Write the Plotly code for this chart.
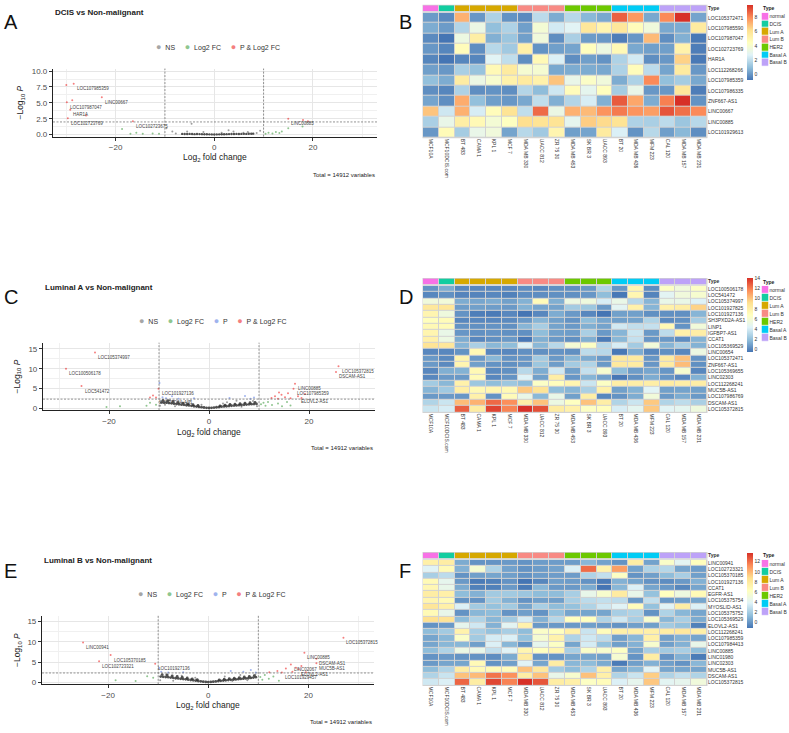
import plotly.graph_objects as go

W, H = 789, 733
FONT = "Liberation Sans, Arial, sans-serif"

# ---------------- volcano data (log2 fold change, -log10 p) ----------------
A_CLOUD_X = [-6.5, -6, -5.5, -5, -4.5, -4, -3.5, -3, -2.5, -2, -1.5, -1, -0.5, 0, 0.5, 1, 1.5, 2, 2.5, 3,
             3.5, 4, 4.5, 5, 5.5, 6, 6.5, 7, 7.5, 7.9]
A_CLOUD_Y = [0.12, 0.1, 0.1, 0.12, 0.1, 0.08, 0.1, 0.09, 0.08, 0.07, 0.06, 0.05, 0.04, 0.03, 0.04, 0.05, 0.06,
             0.07, 0.08, 0.09, 0.1, 0.1, 0.12, 0.1, 0.12, 0.13, 0.12, 0.14, 0.15, 0.16]
A_NS_X = [-9.7, -8.5, -4.6, -7.8, -2.2, 2.9, 3.9, 5.9, 6.8, 8.6, 9.3, -5.5, 1.5]
A_NS_Y = [1.0, 0.5, 1.7, 0.2, 0.4, 0.7, 0.5, 0.3, 0.4, 0.25, 0.6, 0.5, 0.3]
A_FC_X = [-18.7, -17.0, -15.8, -14.5, -12.5, -11.2, 10.4, 11.0, 11.8, 12.5, 13.2, 13.7, 15.0, 17.9]
A_FC_Y = [0.9, 0.15, 0.3, 0.15, 0.2, 0.15, 0.15, 0.3, 0.2, 0.4, 0.25, 0.5, 1.0, 1.3]
A_P_X = []
A_P_Y = []
A_BOTH_X = [-30.0, -28.5, -22.8, -29.9, -28.8, -29.2, -26.0, -29.7, -16.5, 15.0, 18.0, 19.0]
A_BOTH_Y = [7.8, 8.0, 5.9, 5.1, 5.4, 3.9, 3.0, 2.6, 2.1, 2.5, 2.3, 2.1]
A_LABELS = ["LOC107985359", "LINC00667", "LOC107987047", "HAR1A", "LOC102723769", "LOC102723675", "LINC00885"]
A_LABEL_X = [-28.5, -22.8, -29.9, -29.2, -29.7, -16.5, 15.0]
A_LABEL_Y = [8.0, 5.9, 5.1, 3.9, 2.6, 2.1, 2.5]

C_CLOUD_X = [-9.5, -9, -8.5, -8, -7.5, -7, -6.5, -6, -5.5, -5, -4.5, -4, -3.5, -3, -2.5, -2, -1.5, -1, -0.5, 0,
             0.5, 1, 1.5, 2, 2.5, 3, 3.5, 4, 4.5, 5, 5.5, 6, 6.5, 7, 7.5, 8, 8.5, 9, 9.5,
             -9.2, -8.2, -7.2, -6.2, -5.2, -4.2, -3.2, -2.2, 2.2, 3.2, 4.2, 5.2, 6.2, 7.2, 8.2, 9.2]
C_CLOUD_Y = [1.5, 1.4, 1.45, 1.3, 1.25, 1.15, 1.05, 1.0, 0.9, 0.85, 0.75, 0.7, 0.6, 0.5, 0.42, 0.34, 0.26, 0.18,
             0.1, 0.05, 0.1, 0.16, 0.24, 0.3, 0.38, 0.45, 0.5, 0.56, 0.62, 0.68, 0.72, 0.78, 0.82, 0.88, 0.92,
             0.98, 1.02, 1.06, 1.1,
             2.0, 1.9, 1.7, 1.5, 1.3, 1.1, 0.9, 0.7, 0.6, 0.8, 0.95, 1.05, 1.15, 1.3, 1.4, 1.5]
C_NS_X = [-9.8, -8.8, -7.8, -6.8, -4.5, -3.8, 3.6, 5.5, 6.5, 8.8, 9.6, -1.5, 2.8]
C_NS_Y = [0.6, 0.9, 2.0, 0.5, 1.3, 1.8, 1.5, 1.9, 0.4, 1.8, 0.5, 0.9, 1.2]
C_FC_X = [-20.5, -17.8, -12.5, -11.8, -10.6, 10.4, 10.9, 11.3, 11.8, 12.6, 13.8, 14.6, 15.6, 16.3]
C_FC_Y = [0.3, 0.5, 0.6, 1.4, 0.9, 1.0, 1.4, 0.6, 1.6, 0.8, 1.2, 0.5, 1.6, 0.7]
C_P_X = [-9.9, -9.3, -8.6, -7.4, -6.1, -3.0, 4.1, 7.2, 8.3, 9.0]
C_P_Y = [6.4, 2.8, 2.5, 3.0, 2.4, 2.5, 2.6, 3.1, 2.4, 2.7]
C_BOTH_X = [-22.8, -28.6, -25.5, -10.1, -10.6, 17.2, 16.9, 17.8, 25.9, 25.4, 12.5, 13.2, 13.8, 14.5, 15.2,
            15.8, 16.3, 18.5, 19.2, 14.0, -11.8, -11.2]
C_BOTH_Y = [14.1, 10.0, 5.6, 4.9, 2.7, 6.2, 4.9, 3.0, 10.6, 9.2, 2.6, 3.0, 2.4, 3.4, 2.8, 3.8, 2.5, 2.6, 3.6,
            4.0, 2.7, 3.2]
C_LABELS = ["LOC105374997", "LOC100506178", "LOC541472", "LOC101927136", "SH3PXD2A-AS1", "LINC00885",
            "LOC107985359", "ELOVL2-AS1", "LOC105372815", "DSCAM-AS1"]
C_LABEL_X = [-22.8, -28.6, -25.5, -10.1, -10.6, 17.2, 16.9, 17.8, 25.9, 25.4]
C_LABEL_Y = [14.1, 10.0, 5.6, 4.9, 2.7, 6.2, 4.9, 3.0, 10.6, 9.2]

E_CLOUD_X = C_CLOUD_X
E_CLOUD_Y = [1.4, 1.35, 1.3, 1.25, 1.15, 1.1, 1.0, 0.95, 0.85, 0.8, 0.72, 0.65, 0.56, 0.48, 0.4, 0.32, 0.24,
             0.16, 0.09, 0.04, 0.09, 0.15, 0.22, 0.29, 0.36, 0.42, 0.48, 0.54, 0.6, 0.65, 0.7, 0.76, 0.82,
             0.88, 0.94, 1.0, 1.08, 1.15, 1.25,
             1.9, 1.8, 1.6, 1.45, 1.25, 1.05, 0.85, 0.65, 0.6, 0.75, 0.9, 1.0, 1.15, 1.3, 1.45, 1.65]
E_NS_X = [-9.6, -8.4, -7.0, -5.3, -2.6, 3.3, 4.8, 6.4, 7.8, 9.4]
E_NS_Y = [0.5, 1.9, 0.4, 1.6, 1.1, 1.4, 0.3, 1.8, 0.5, 1.9]
E_FC_X = [-18.5, -14.5, -12.2, -11.0, 10.4, 10.8, 11.3, 12.1, 13.0, 14.1]
E_FC_Y = [0.5, 0.3, 1.5, 1.1, 1.3, 0.6, 1.8, 0.9, 1.4, 0.4]
E_P_X = [-9.8, -9.4, -8.0, -5.0, 4.5, 7.0, 8.5, 9.5]
E_P_Y = [3.5, 2.6, 2.4, 2.5, 2.8, 2.6, 3.0, 2.4]
E_BOTH_X = [-25.0, -19.5, -21.8, -10.6, 27.0, 19.2, 21.6, 21.6, 16.5, 18.0, 14.7, 13.8, 15.5, 16.8, 17.5,
            19.5, 18.6, 12.2]
E_BOTH_Y = [9.8, 6.7, 5.2, 4.6, 11.0, 7.3, 5.8, 4.7, 4.4, 3.2, 2.4, 2.8, 3.4, 2.6, 3.6, 2.5, 4.0, 2.5]
E_LABELS = ["LINC00941", "LOC105370185", "LOC102723321", "LOC101927136", "LOC105372815", "LINC00885",
            "DSCAM-AS1", "MUC5B-AS1", "LINC02067", "ELOVL2-AS1", "LOC101929457"]
E_LABEL_X = [-25.0, -19.5, -21.8, -10.6, 27.0, 19.2, 21.6, 21.6, 16.5, 18.0, 14.7]
E_LABEL_Y = [9.8, 6.7, 5.2, 4.6, 11.0, 7.3, 5.8, 4.7, 4.4, 3.2, 2.4]

FC_CUTOFF = 10
P_CUTOFFS = [2.0, 2.3, 2.3]
TOTAL_VARIABLES = 14912

# ---------------- heatmap data ----------------
CELL_LINES = ["MCF10A", "MCF10DCIS.com", "BT 483", "CAMA 1", "KPL 1", "MCF 7", "MDA MB 330", "UACC 812",
              "ZR 75 30", "MDA MB 453", "SK BR 3", "UACC 893", "BT 20", "MDA MB 436", "MFM 223", "CAL 120",
              "MDA MB 157", "MDA MB 231"]
CELL_TYPE = ["normal", "DCIS", "Lum A", "Lum A", "Lum A", "Lum A", "Lum B", "Lum B", "Lum B", "HER2", "HER2",
             "HER2", "Basal A", "Basal A", "Basal A", "Basal B", "Basal B", "Basal B"]
TYPE_NAMES = ["normal", "DCIS", "Lum A", "Lum B", "HER2", "Basal A", "Basal B"]
TYPE_COLORS = ["#F771E6", "#12CDA0", "#D6A800", "#F88A84", "#6CC800", "#00CCF5", "#BDA2F8"]

B_ROWS = ["LOC105372471", "LOC107985590", "LOC107987047", "LOC102723769", "HAR1A", "LOC112268266",
          "LOC107985359", "LOC107986335", "ZNF667-AS1", "LINC00667", "LINC00885", "LOC101929613"]
B_VALUES = [
    [0.1, -0.3, 7.2, 0.0, 1.6, -0.1, -0.3, 1.9, 0.5, 1.8, 0.8, 0.4, 8.8, 7.7, 0.4, 8.0, 9.7, 0.3],
    [0.5, 0.1, 1.7, 3.3, 1.0, 1.6, 0.2, 3.8, 2.4, 2.8, 5.8, 5.0, 5.8, 4.6, 3.6, 0.4, 0.5, 5.6],
    [-0.3, -0.8, 3.4, 5.4, 0.6, 1.2, 0.2, 3.6, -0.2, 1.5, 0.1, 0.0, -0.6, 0.0, 7.0, -0.2, 0.6, -0.7],
    [0.0, -0.4, 4.6, -0.2, 1.8, 1.3, 5.3, -0.1, 0.2, 0.3, 4.5, 3.4, 4.8, 0.4, 0.2, 0.2, 5.2, -0.6],
    [-0.4, -0.8, -0.4, -0.4, 2.8, 2.0, -0.2, 4.8, 2.6, -0.2, 0.2, -0.1, 1.6, 2.4, -0.2, 0.0, 6.5, -0.7],
    [0.2, 0.0, 1.5, 1.1, 4.8, 5.6, 3.9, 3.9, 0.4, 0.5, 0.5, 0.4, 1.6, 4.6, 1.9, 0.3, 5.6, 0.0],
    [1.0, 0.5, 5.5, 3.3, 4.0, 5.2, 5.6, 5.2, 6.8, 3.2, 4.2, 3.6, 0.5, 1.6, 8.0, 1.0, 1.4, 0.4],
    [-0.2, -0.4, 1.6, -0.2, -0.1, -0.2, 1.7, 0.9, 2.3, 4.6, 3.0, 4.5, 1.4, 3.2, 0.0, 0.0, 5.8, -0.6],
    [0.3, -0.2, 7.3, 1.0, 0.2, 0.0, 0.4, 2.0, 0.6, 1.7, 2.5, 0.6, 8.9, 7.4, 0.5, 8.2, 9.7, -0.1],
    [6.8, 2.3, 7.2, 2.5, 4.6, 6.0, 2.0, 8.6, 3.3, 7.2, 7.0, 7.8, 8.3, 7.8, 7.6, 9.0, 8.5, 8.0],
    [1.5, 3.2, 5.4, 4.8, 3.8, 4.4, 6.2, 6.0, 6.0, 3.0, 6.6, 6.3, 6.0, 1.6, 1.5, 1.9, 1.2, 1.8],
    [0.0, 4.7, 1.4, 3.2, 3.6, 0.3, 1.8, 1.3, 5.0, 0.2, 0.3, 5.6, 2.6, -0.1, 1.8, 0.2, 0.8, -0.2],
]

D_ROWS = ["LOC100506178", "LOC541472", "LOC105374997", "LOC101927825", "LOC101927136", "SH3PXD2A-AS1",
          "LINP1", "IGFBP7-AS1", "CCAT1", "LOC105369529", "LINC00654", "LOC105372471", "ZNF667-AS1",
          "LOC105369655", "LINC02303", "LOC112268241", "MUC5B-AS1", "LOC107986769", "DSCAM-AS1",
          "LOC105372815"]
D_VALUES = [
    [0.4, 1.2, 0.0, 0.0, 0.0, 0.0, 0.2, 0.0, 0.3, 0.3, 0.6, 2.8, 0.5, 7.5, 0.2, 6.5, 5.5, 6.5],
    [0.0, 0.3, -0.1, -0.1, 0.0, -0.2, 0.2, 0.2, 0.3, 0.3, 0.5, 1.8, -0.5, 7.4, -0.1, 4.5, 5.5, 6.0],
    [5.5, 5.6, 1.2, 1.0, 1.2, 0.8, 1.4, 7.0, 1.3, 5.2, 5.4, 4.0, 5.0, 3.0, 1.5, 5.0, 5.0, 4.2],
    [8.5, 8.6, 0.7, 0.8, 0.7, 0.6, 1.4, 1.0, 0.9, 2.4, 2.2, 0.6, 4.5, 7.8, 1.5, 7.8, 8.0, 9.5],
    [7.5, 5.4, 0.4, -0.3, -0.4, 0.0, -0.6, 0.0, 1.2, 0.6, 0.0, -0.6, 0.8, 0.8, 0.3, 0.3, 0.3, 1.5],
    [6.8, 7.0, 0.0, 0.0, 0.0, 0.1, 0.6, 1.5, 0.8, 0.4, 1.8, 1.0, 0.8, 0.9, 2.8, 0.1, 0.3, 2.5],
    [7.2, 7.0, 0.4, 0.3, 0.4, 0.3, 1.5, 2.5, 0.9, 0.6, 1.3, 0.9, 3.8, 3.3, 3.4, 7.2, 0.4, 5.6],
    [7.5, 5.0, 0.5, 0.3, 0.4, 0.3, 0.3, 1.8, 0.8, 0.7, 2.6, 0.6, 1.5, 3.6, 0.6, 3.2, 7.8, 8.0],
    [7.8, 5.2, 1.2, 0.0, 0.3, 0.6, -0.5, 1.3, 0.6, 0.3, 1.3, -0.4, 1.6, 3.4, 0.5, 0.6, 0.2, 1.4],
    [8.8, 8.6, 1.5, 2.6, 1.6, 1.8, 4.2, 1.6, 3.0, 5.8, 6.5, 3.0, 4.0, 2.4, 5.6, 1.5, 2.6, 1.4],
    [0.0, 0.0, 0.4, 7.2, 0.0, 0.0, 0.3, 0.3, 0.4, 0.3, 3.2, 3.0, -0.5, 1.2, 0.0, 0.3, 0.0, 5.2],
    [0.6, 0.1, 7.6, 0.6, 1.6, 0.4, 0.5, 2.4, 0.6, 1.6, 1.2, 0.6, 8.5, 8.3, 0.5, 8.3, 10.0, 0.4],
    [0.6, 0.1, 7.5, 0.8, 0.4, 0.3, 0.5, 2.2, 0.7, 2.4, 2.8, 0.6, 8.4, 8.2, 0.5, 8.2, 10.2, 0.3],
    [0.0, 1.3, 1.4, 7.2, 0.1, 0.3, 3.0, 1.2, 3.8, 0.8, 3.4, 6.0, 1.8, 0.7, 1.0, 0.5, 6.0, 0.0],
    [0.0, 0.6, 0.6, 7.0, 0.0, 0.4, 4.2, 0.8, 8.0, 0.5, 1.5, 0.8, -0.5, 0.3, 1.2, 0.5, 0.0, 1.4],
    [2.4, 1.6, 7.8, 2.2, 1.8, 2.2, 1.8, 6.4, 6.8, 7.5, 3.6, 6.5, 8.0, 8.0, 8.0, 8.2, 8.0, 8.0],
    [1.5, 2.3, 8.0, 7.2, 7.4, 7.2, 9.8, 8.8, 1.8, 1.5, 2.6, 7.8, 0.8, 1.4, 4.4, 0.8, 0.9, 0.8],
    [0.6, 0.6, 0.5, 7.8, 0.4, 7.0, 5.0, 1.6, 5.0, 0.8, 8.0, 0.0, 0.4, 1.2, 5.6, 0.6, 1.2, 0.6],
    [2.8, 3.6, 10.2, 10.5, 12.5, 11.5, 8.0, 10.0, 5.2, 6.6, 10.0, 8.0, 2.8, 3.6, 9.8, 2.8, 3.2, 2.6],
    [3.6, 4.0, 12.8, 8.2, 13.5, 11.8, 14.0, 13.2, 8.2, 7.8, 6.5, 6.8, 4.0, 4.6, 9.8, 4.4, 4.6, 5.4],
]

F_ROWS = ["LINC00941", "LOC102723321", "LOC105370185", "LOC101927136", "CCAT1", "EGFR-AS1", "LOC105375754",
          "MYOSLID-AS1", "LOC105375752", "LOC105369529", "ELOVL2-AS1", "LOC112268241", "LOC107985359",
          "LOC107984413", "LINC00885", "LINC01980", "LINC02303", "MUC5B-AS1", "DSCAM-AS1", "LOC105372815"]
F_VALUES = [
    [7.6, 7.8, 0.8, 0.0, 0.0, 0.2, 0.0, 0.3, 0.3, 0.3, 1.2, 0.5, 0.0, 7.8, 0.5, 6.0, 4.2, 6.5],
    [4.0, 6.8, 1.0, 5.6, 2.4, 0.5, 0.0, 0.3, 0.5, 3.8, 12.2, 7.4, 10.8, 0.5, 2.4, 2.6, 0.6, 0.3],
    [2.2, 2.8, 0.0, 0.4, 0.6, 0.4, 0.0, 0.3, 0.3, 0.3, 2.4, 3.0, 6.2, 0.0, 0.4, 1.4, 2.2, 0.4],
    [6.8, 4.4, 0.2, -0.8, -0.6, 0.0, -1.0, -0.4, 0.4, 0.3, 0.0, -0.8, 1.0, 0.6, 0.0, -0.2, 0.2, 1.0],
    [7.0, 4.6, 0.8, -0.6, -0.6, 0.2, -0.8, 1.2, 0.2, 0.2, 0.8, -1.0, 1.2, 3.8, 0.6, 0.2, -0.4, 0.6],
    [7.8, 7.6, 1.4, 1.0, 2.0, 2.0, 1.8, 1.4, 1.4, 2.2, 4.6, 5.8, 8.0, 4.6, 1.6, 6.4, 5.0, 6.8],
    [7.2, 6.8, 0.0, 0.0, 2.0, 1.0, 0.0, 0.4, 0.4, 2.2, 2.8, 3.0, 2.8, 0.2, 3.0, 0.2, 0.4, 0.6],
    [8.4, 7.6, 3.8, 2.0, 1.6, 2.0, 0.6, 2.2, 1.4, 1.6, 2.4, 3.4, 4.0, 6.6, 1.6, 4.0, 7.8, 3.8],
    [6.8, 4.6, 0.0, 1.2, 1.4, 0.0, 0.4, 0.0, 1.6, 0.6, 0.6, 0.6, 2.2, 2.4, 0.0, 2.4, 1.2, 0.6],
    [8.8, 8.6, 1.4, 2.4, 1.2, 2.0, 3.6, 1.0, 2.6, 6.4, 6.4, 2.4, 3.4, 2.2, 5.8, 1.2, 2.2, 0.8],
    [0.0, 0.2, 4.4, 3.4, 1.0, 4.2, 7.4, 0.2, 0.2, 0.2, 0.4, 0.2, 0.0, 0.4, 0.4, 2.0, 1.6, -0.6],
    [1.4, 2.0, 7.4, 2.2, 1.6, 2.2, 1.4, 6.0, 6.4, 7.6, 3.2, 6.6, 7.6, 7.6, 7.6, 7.8, 8.2, 7.6],
    [0.6, 1.2, 6.0, 2.0, 3.6, 3.8, 1.6, 5.6, 7.4, 2.4, 3.4, 2.8, 0.4, 1.2, 7.6, 0.4, 1.0, 0.6],
    [0.6, 1.2, 1.2, 0.4, 3.8, 1.2, 0.0, 4.4, 6.2, 0.6, 3.6, 1.6, 0.4, 1.0, 5.8, 0.4, 1.0, 4.6],
    [1.4, 2.4, 4.8, 4.6, 3.0, 4.0, 7.2, 6.4, 7.2, 2.2, 6.0, 5.8, 6.2, 0.6, 2.2, 2.0, 2.2, 1.4],
    [0.0, 0.2, 0.0, 0.0, -0.2, 0.8, 8.0, 0.0, 0.0, 0.6, 0.6, 0.4, 5.6, 0.0, 7.8, 0.0, 1.0, -0.8],
    [0.2, 0.6, 0.6, 6.8, 0.0, 0.4, 4.0, 0.6, 7.8, 1.2, 1.4, 0.8, -0.8, 0.4, 1.0, 0.4, 0.0, 1.2],
    [1.4, 2.4, 7.8, 6.8, 6.8, 6.6, 9.8, 8.2, 2.0, 1.4, 2.4, 7.6, 0.6, 1.2, 4.0, 0.6, 0.6, 0.6],
    [2.4, 3.2, 9.8, 10.0, 12.0, 11.2, 7.8, 9.8, 4.6, 5.8, 9.8, 7.6, 2.4, 3.2, 9.4, 2.4, 3.0, 2.4],
    [3.4, 3.8, 12.4, 7.8, 13.2, 11.6, 13.8, 12.8, 7.8, 7.6, 6.2, 6.6, 3.8, 4.4, 9.6, 4.2, 4.4, 5.2],
]

# ---------------- styling ----------------
HEAT_SCALE = ["#4575B4", "#91BFDB", "#E0F3F8", "#FFFFBF", "#FEE090", "#FC8D59", "#D73027"]
CLASS_COLORS = {"NS": "rgba(77,77,77,0.55)", "Log2 FC": "rgba(34,139,34,0.5)",
                "P": "rgba(65,105,225,0.5)", "P & Log2 FC": "rgba(238,0,0,0.5)"}
LEGEND_DOTS = {"NS": "#A6A6A6", "Log2 FC": "#8FC68F", "P": "#9FB3EE", "P & Log2 FC": "#F47F7F"}


def fx(px):
    return px / W


def fy(py):
    return 1 - py / H


fig = go.Figure()
layout = {}
annotations = []
shapes = []


def ax_name(kind, n):
    return f"{kind}axis" if n == 1 else f"{kind}axis{n}"


def ax_ref(kind, n):
    return kind if n == 1 else f"{kind}{n}"


# ---------------- volcano panels ----------------
volcano_panels = [
    dict(n=1, letter="A", title="DCIS vs Non-malignant", box=(53, 67, 377, 135.5), xr=[-32.7, 33],
         yr=[-0.3, 10.4], ydtick=2.5, yfmt=".1f", letter_y=20, title_y=11, legend_y=45, legend_cx=218,
         xtitle_y=157, ytitle_x=21, total_y=174,
         classes=["NS", "Log2 FC", "P & Log2 FC"],
         cloud=(A_CLOUD_X, A_CLOUD_Y), cloud_size=2.4,
         ns=(A_NS_X, A_NS_Y), fc=(A_FC_X, A_FC_Y), p=(A_P_X, A_P_Y), both=(A_BOTH_X, A_BOTH_Y),
         labels=(A_LABELS, A_LABEL_X, A_LABEL_Y)),
    dict(n=2, letter="C", title="Luminal A vs Non-malignant", box=(43, 343, 375, 411), xr=[-33.2, 33.2],
         yr=[-0.5, 16.6], ydtick=5, yfmt="d", letter_y=297, title_y=287, legend_y=321, legend_cx=213,
         xtitle_y=433, ytitle_x=17, total_y=449,
         classes=["NS", "Log2 FC", "P", "P & Log2 FC"],
         cloud=(C_CLOUD_X, C_CLOUD_Y), cloud_size=2.8,
         ns=(C_NS_X, C_NS_Y), fc=(C_FC_X, C_FC_Y), p=(C_P_X, C_P_Y), both=(C_BOTH_X, C_BOTH_Y),
         labels=(C_LABELS, C_LABEL_X, C_LABEL_Y)),
    dict(n=3, letter="E", title="Luminal B vs Non-malignant", box=(42, 618, 374, 687), xr=[-33.2, 33.1],
         yr=[-0.5, 16.4], ydtick=5, yfmt="d", letter_y=573, title_y=562, legend_y=596, legend_cx=212,
         xtitle_y=708, ytitle_x=17, total_y=725,
         classes=["NS", "Log2 FC", "P", "P & Log2 FC"],
         cloud=(E_CLOUD_X, E_CLOUD_Y), cloud_size=2.8,
         ns=(E_NS_X, E_NS_Y), fc=(E_FC_X, E_FC_Y), p=(E_P_X, E_P_Y), both=(E_BOTH_X, E_BOTH_Y),
         labels=(E_LABELS, E_LABEL_X, E_LABEL_Y)),
]

for panel, p_cut in zip(volcano_panels, P_CUTOFFS):
    n = panel["n"]
    xref, yref = ax_ref("x", n), ax_ref("y", n)
    left, top, right, bottom = panel["box"]
    tick_font = dict(size=8, color="#4D4D4D", family=FONT)
    layout[ax_name("x", n)] = dict(
        domain=[fx(left), fx(right)], range=panel["xr"], anchor=yref, tickmode="linear", tick0=0, dtick=20,
        showline=True, linecolor="#222", linewidth=1.2, ticks="outside", ticklen=3, tickcolor="#333",
        tickfont=tick_font, showgrid=True, gridcolor="#E6E6E6", gridwidth=0.8, zeroline=False,
        minor=dict(dtick=10, showgrid=True, gridcolor="#F0F0F0", gridwidth=0.6, ticks=""),
    )
    layout[ax_name("y", n)] = dict(
        domain=[fy(bottom), fy(top)], range=panel["yr"], anchor=xref, tickmode="linear", tick0=0,
        dtick=panel["ydtick"], tickformat=panel["yfmt"],
        showline=True, linecolor="#222", linewidth=1.2, ticks="outside", ticklen=3, tickcolor="#333",
        tickfont=tick_font, showgrid=True, gridcolor="#E6E6E6", gridwidth=0.8, zeroline=False,
        minor=dict(dtick=panel["ydtick"] / 2, showgrid=True, gridcolor="#F0F0F0", gridwidth=0.6, ticks=""),
    )

    cx, cy = panel["cloud"]
    fig.add_trace(go.Scatter(x=cx, y=cy, mode="markers", xaxis=xref, yaxis=yref, hoverinfo="skip",
                             marker=dict(size=panel["cloud_size"], color="rgba(40,40,40,0.8)")))
    for key, cls in [("ns", "NS"), ("fc", "Log2 FC"), ("p", "P"), ("both", "P & Log2 FC")]:
        xs, ys = panel[key]
        if xs:
            fig.add_trace(go.Scatter(x=xs, y=ys, mode="markers", xaxis=xref, yaxis=yref, hoverinfo="skip",
                                     marker=dict(size=2.0, color=CLASS_COLORS[cls])))

    for xv in (-FC_CUTOFF, FC_CUTOFF):
        shapes.append(dict(type="line", xref=xref, yref=f"{yref} domain", x0=xv, x1=xv, y0=0, y1=1,
                           line=dict(color="#666", width=0.7, dash="2px,1.5px")))
    shapes.append(dict(type="line", xref=f"{xref} domain", yref=yref, x0=0, x1=1, y0=p_cut, y1=p_cut,
                       line=dict(color="#666", width=0.7, dash="2px,1.5px")))

    names, lx, ly = panel["labels"]
    for name, xv, yv in zip(names, lx, ly):
        annotations.append(dict(x=xv, y=yv, xref=xref, yref=yref, text=name, showarrow=False,
                                xanchor="left", yanchor="top", xshift=1, yshift=-0.5,
                                font=dict(size=4.5, color="#444", family=FONT)))

    annotations.append(dict(x=fx(2), y=fy(panel["letter_y"]), xref="paper", yref="paper", text=panel["letter"],
                            showarrow=False, xanchor="left", yanchor="middle",
                            font=dict(size=20, color="#111", family=FONT)))
    annotations.append(dict(x=fx(left), y=fy(panel["title_y"]), xref="paper", yref="paper",
                            text=f"<b>{panel['title']}</b>", showarrow=False, xanchor="left", yanchor="middle",
                            font=dict(size=8, color="#222", family=FONT)))
    parts = [f"<span style='color:{LEGEND_DOTS[c]};font-size:9px'>●</span>  {c}" for c in panel["classes"]]
    annotations.append(dict(x=fx(panel["legend_cx"]), y=fy(panel["legend_y"]), xref="paper", yref="paper",
                            text="     ".join(parts), showarrow=False, xanchor="center", yanchor="middle",
                            font=dict(size=7, color="#333", family=FONT)))
    annotations.append(dict(x=fx((left + right) / 2), y=fy(panel["xtitle_y"]), xref="paper", yref="paper",
                            text="Log<sub>2</sub> fold change", showarrow=False, xanchor="center",
                            yanchor="middle", font=dict(size=8.5, color="#222", family=FONT)))
    annotations.append(dict(x=fx(panel["ytitle_x"]), y=fy((top + bottom) / 2), xref="paper", yref="paper",
                            text="−Log<sub>10</sub> <i>P</i>", showarrow=False, textangle=-90,
                            xanchor="center", yanchor="middle", font=dict(size=8.5, color="#222", family=FONT)))
    annotations.append(dict(x=fx(right), y=fy(panel["total_y"]), xref="paper", yref="paper",
                            text=f"Total = {TOTAL_VARIABLES} variables", showarrow=False, xanchor="right",
                            yanchor="middle", font=dict(size=6, color="#222", family=FONT)))

# ---------------- heatmap panels ----------------
heat_panels = [
    dict(letter="B", letter_y=20, rows=B_ROWS, values=B_VALUES, xs=(4, 5), ys=(4, 5, 6),
         type_box=(3.3, 9.3), heat_box=(10.7, 136.7), cbar_box=(3.3, 78.3), legend_box=(10.7, 65),
         legend_title_y=6),
    dict(letter="D", letter_y=297, rows=D_ROWS, values=D_VALUES, xs=(6, 7), ys=(7, 8, 9),
         type_box=(278.3, 284.3), heat_box=(285.7, 413.3), cbar_box=(278.3, 352.3), legend_box=(285.7, 342.3),
         legend_title_y=281.7),
    dict(letter="F", letter_y=573, rows=F_ROWS, values=F_VALUES, xs=(8, 9), ys=(10, 11, 12),
         type_box=(554.3, 560), heat_box=(561.7, 688.3), cbar_box=(554.3, 629), legend_box=(561.7, 618.3),
         legend_title_y=557.3),
]
HEAT_LEFT, HEAT_RIGHT = 423, 707
LEG_LEFT, LEG_RIGHT = 761.5, 768.5

nt = len(TYPE_NAMES)
type_scale = []
for i, c in enumerate(TYPE_COLORS):
    type_scale.append([i / nt, c])
    type_scale.append([(i + 1) / nt, c])
type_index = [TYPE_NAMES.index(t) for t in CELL_TYPE]
heat_scale = [[i / (len(HEAT_SCALE) - 1), c] for i, c in enumerate(HEAT_SCALE)]
small = dict(size=5, color="#333", family=FONT)

for panel in heat_panels:
    xm, xl = panel["xs"]
    ym, yt, yl = panel["ys"]
    xm_r, xl_r = ax_ref("x", xm), ax_ref("x", xl)
    ym_r, yt_r, yl_r = ax_ref("y", ym), ax_ref("y", yt), ax_ref("y", yl)
    htop, hbot = panel["heat_box"]
    ttop, tbot = panel["type_box"]
    ctop, cbot = panel["cbar_box"]
    ltop, lbot = panel["legend_box"]

    layout[ax_name("x", xm)] = dict(domain=[fx(HEAT_LEFT), fx(HEAT_RIGHT)], anchor=ym_r, showgrid=False,
                                    zeroline=False, showline=False, ticks="", tickangle=90, tickfont=small,
                                    type="category")
    layout[ax_name("y", ym)] = dict(domain=[fy(hbot), fy(htop)], anchor=xm_r, side="right", showgrid=False,
                                    zeroline=False, ticks="", tickfont=small, autorange="reversed",
                                    type="category")
    layout[ax_name("y", yt)] = dict(domain=[fy(tbot), fy(ttop)], anchor=xm_r, side="right", showgrid=False,
                                    zeroline=False, ticks="", tickfont=small, tickvals=["Type"],
                                    ticktext=["<b>Type</b>"], type="category")
    layout[ax_name("x", xl)] = dict(domain=[fx(LEG_LEFT), fx(LEG_RIGHT)], anchor=yl_r, showgrid=False,
                                    zeroline=False, showticklabels=False, ticks="", type="category")
    layout[ax_name("y", yl)] = dict(domain=[fy(lbot), fy(ltop)], anchor=xl_r, side="right", showgrid=False,
                                    zeroline=False, ticks="", tickfont=small, autorange="reversed",
                                    type="category")

    for box_top, box_bot in ((htop, hbot), (ttop, tbot)):
        shapes.append(dict(type="rect", xref="paper", yref="paper", layer="below",
                           x0=fx(HEAT_LEFT - 0.5), x1=fx(HEAT_RIGHT + 0.5), y0=fy(box_bot + 0.5),
                           y1=fy(box_top - 0.5), fillcolor="#D2D2D2", line=dict(width=0)))

    flat = [v for row in panel["values"] for v in row]
    fig.add_trace(go.Heatmap(
        z=panel["values"], x=CELL_LINES, y=panel["rows"], xaxis=xm_r, yaxis=ym_r,
        colorscale=heat_scale, zmin=min(flat), zmax=max(flat), xgap=1, ygap=1, hoverinfo="skip",
        colorbar=dict(x=fx(746.5), xanchor="left", y=fy(ctop), yanchor="top", lenmode="pixels",
                      len=cbot - ctop, thickness=5.5, thicknessmode="pixels", xpad=0, ypad=0,
                      outlinewidth=0, ticks="", tick0=0, dtick=2, tickfont=small),
    ))
    fig.add_trace(go.Heatmap(
        z=[type_index], x=CELL_LINES, y=["Type"], xaxis=xm_r, yaxis=yt_r, colorscale=type_scale,
        zmin=-0.5, zmax=nt - 0.5, showscale=False, xgap=1, ygap=0, hoverinfo="skip",
    ))
    fig.add_trace(go.Heatmap(
        z=[[i] for i in range(nt)], x=["Type"], y=TYPE_NAMES, xaxis=xl_r, yaxis=yl_r, colorscale=type_scale,
        zmin=-0.5, zmax=nt - 0.5, showscale=False, xgap=0, ygap=0.8, hoverinfo="skip",
    ))

    annotations.append(dict(x=fx(LEG_LEFT - 1), y=fy(panel["legend_title_y"]), xref="paper", yref="paper",
                            text="<b>Type</b>", showarrow=False, xanchor="left", yanchor="middle",
                            font=dict(size=5, color="#222", family=FONT)))
    annotations.append(dict(x=fx(397), y=fy(panel["letter_y"]), xref="paper", yref="paper",
                            text=panel["letter"], showarrow=False, xanchor="left", yanchor="middle",
                            font=dict(size=20, color="#111", family=FONT)))

fig.update_layout(
    width=W, height=H, margin=dict(l=0, r=0, t=0, b=0), paper_bgcolor="white",
    plot_bgcolor="rgba(0,0,0,0)", showlegend=False, font=dict(family=FONT),
    annotations=annotations, shapes=shapes, **layout,
)

# the page body has a default 8px margin; drop it so the figure sits at the window origin
fig.write_html("out.html", config={"displayModeBar": False},
               post_script="document.body.style.margin = '0';")
